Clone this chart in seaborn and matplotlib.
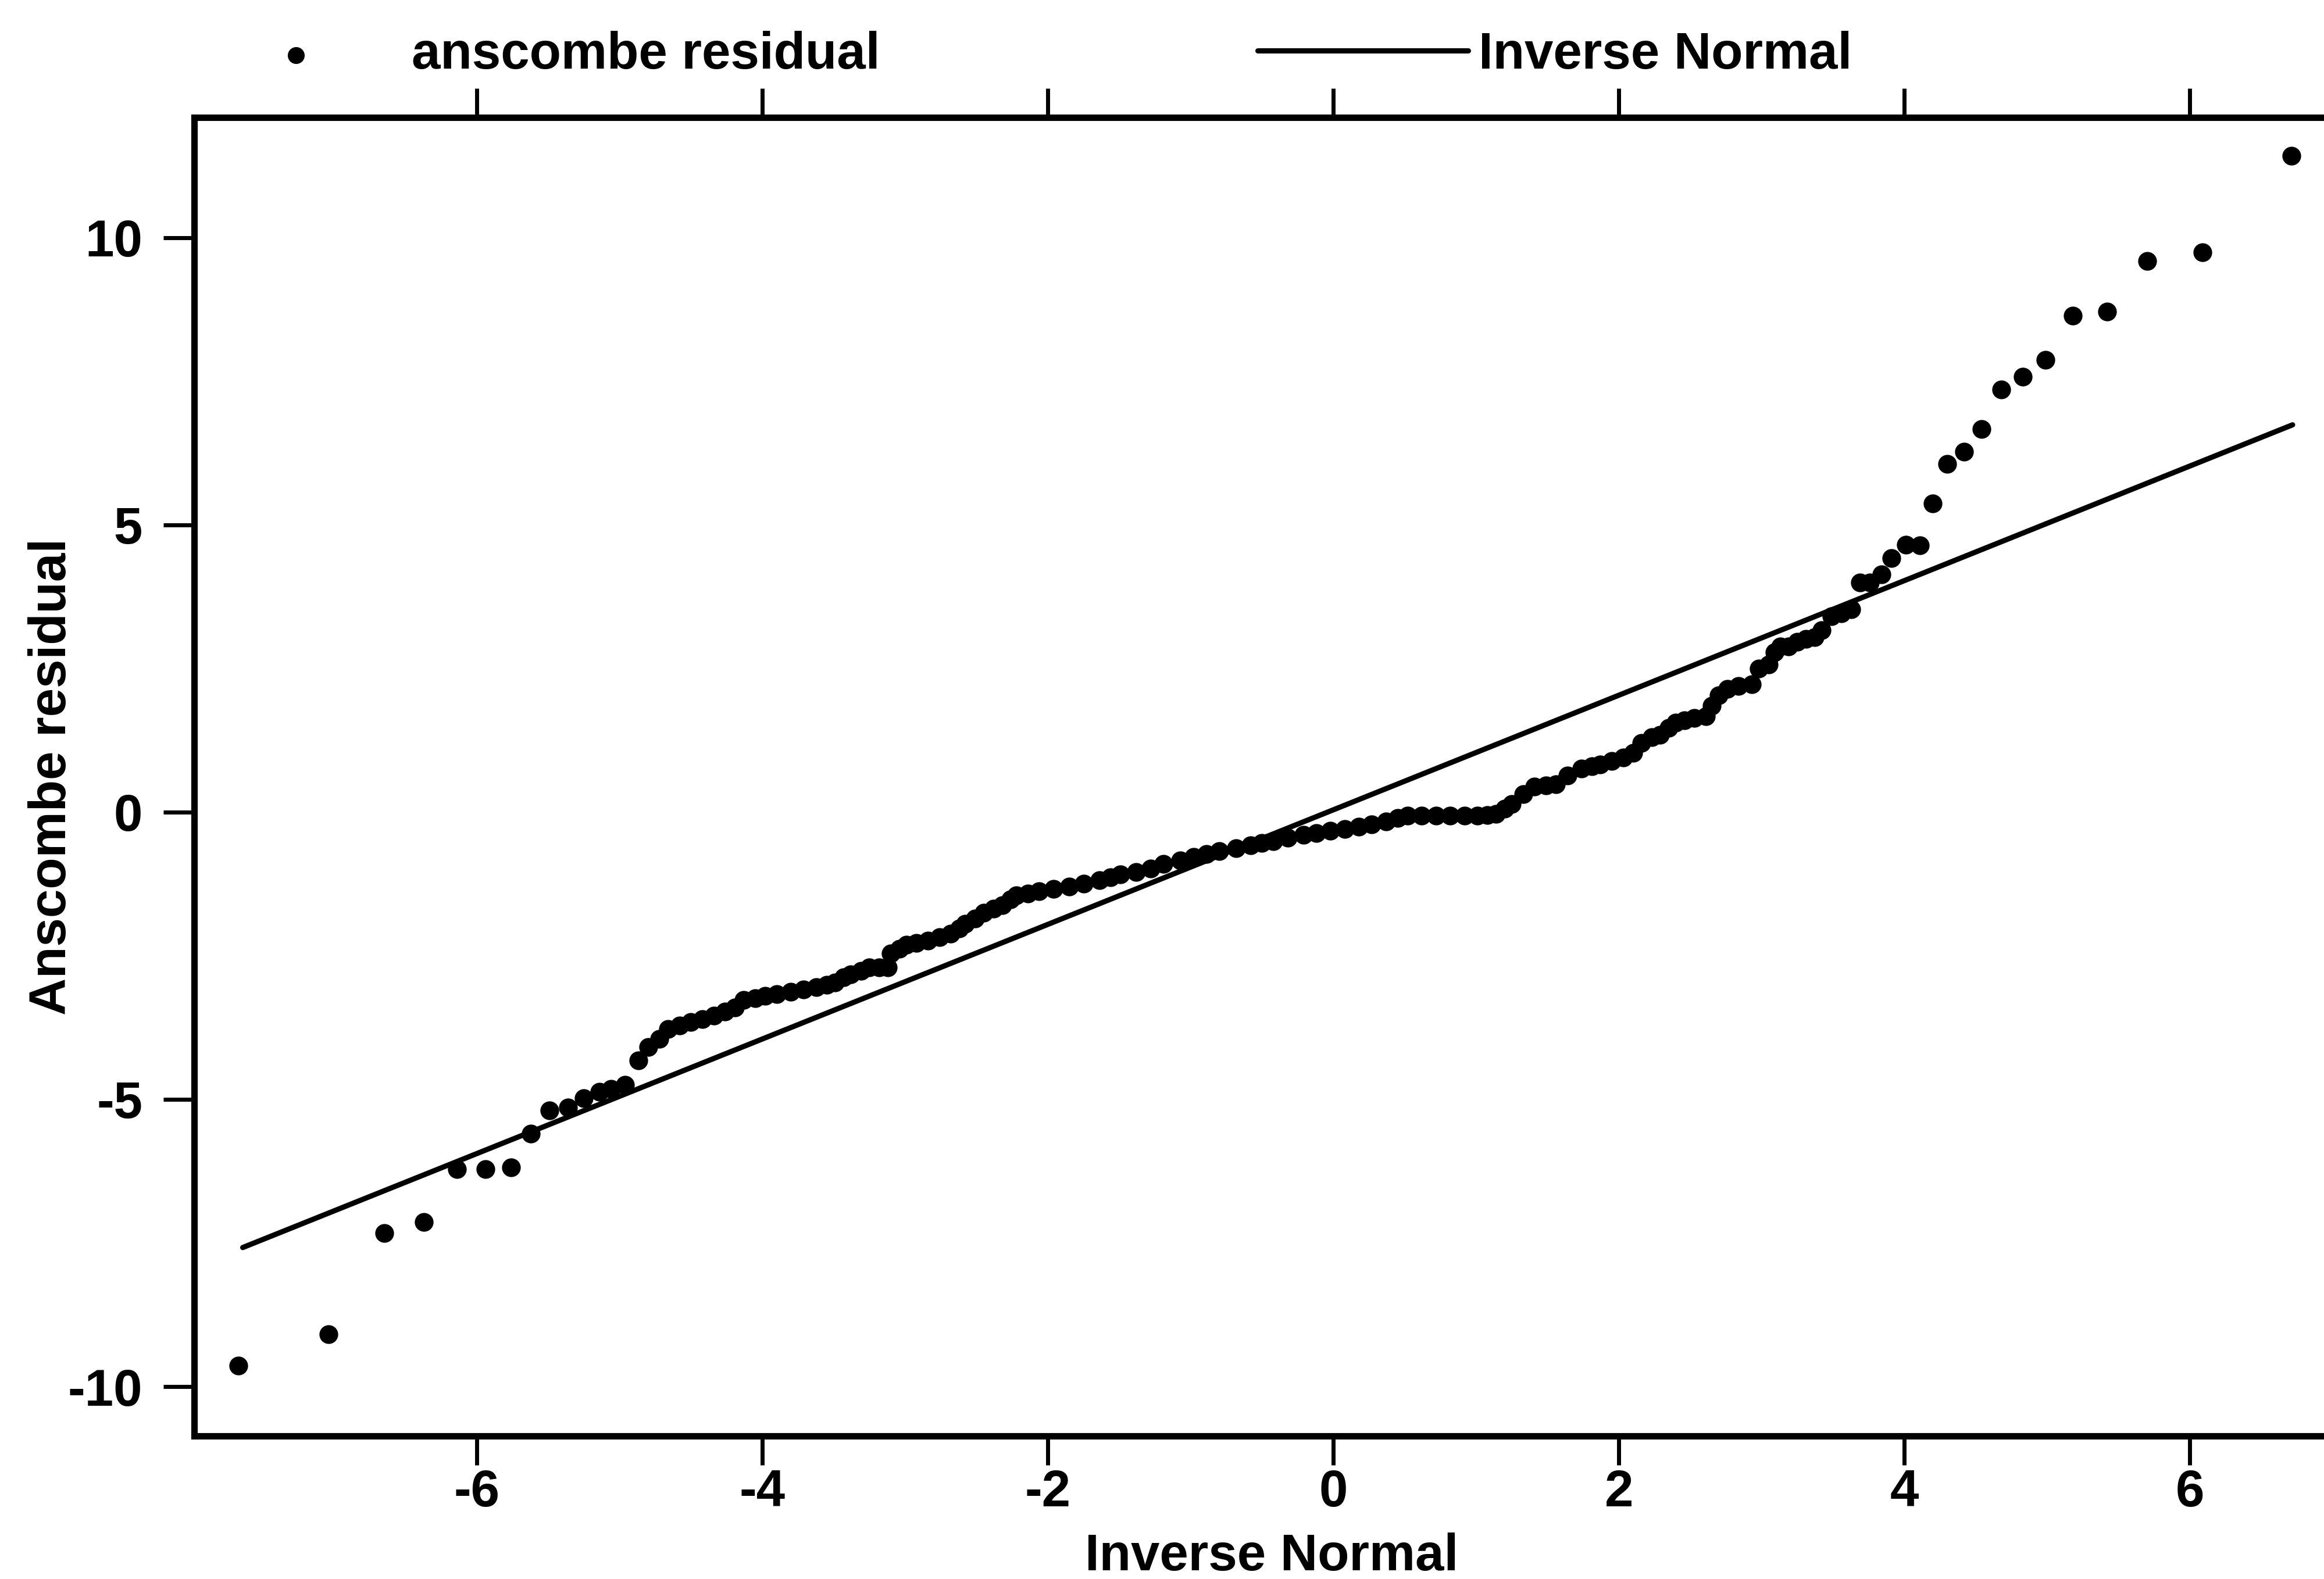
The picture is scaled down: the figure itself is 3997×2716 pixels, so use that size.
import matplotlib
matplotlib.use('Agg')
import matplotlib.pyplot as plt
import seaborn as sns
import numpy as np

# inverse normal quantiles (x) and anscombe residuals (y)
inv_normal = [
    -7.67, -7.04, -6.65, -6.37, -6.14, -5.94, -5.76, -5.62, -5.49, -5.36,
    -5.25, -5.14, -5.06, -4.96, -4.87, -4.80, -4.72, -4.66, -4.58, -4.50,
    -4.42, -4.34, -4.26, -4.19, -4.13, -4.05, -3.98, -3.90, -3.80, -3.71,
    -3.62, -3.55, -3.49, -3.43, -3.38, -3.31, -3.25, -3.18, -3.12, -3.10,
    -3.04, -2.99, -2.92, -2.84, -2.76, -2.68, -2.62, -2.58, -2.51, -2.45,
    -2.38, -2.32, -2.26, -2.22, -2.14, -2.06, -1.96, -1.85, -1.75, -1.64,
    -1.56, -1.49, -1.38, -1.28, -1.19, -1.07, -0.98, -0.89, -0.80, -0.68,
    -0.58, -0.50, -0.42, -0.32, -0.21, -0.12, -0.02, 0.08, 0.18, 0.27,
    0.37, 0.45, 0.52, 0.62, 0.72, 0.82, 0.92, 1.01, 1.08, 1.14,
    1.20, 1.25, 1.33, 1.41, 1.49, 1.56, 1.64, 1.74, 1.81, 1.87,
    1.95, 2.03, 2.10, 2.16, 2.23, 2.29, 2.35, 2.40, 2.46, 2.53,
    2.61, 2.65, 2.70, 2.76, 2.84, 2.93, 2.98, 3.05, 3.09, 3.13,
    3.19, 3.25, 3.31, 3.37, 3.42, 3.49, 3.56, 3.63, 3.69, 3.76,
    3.84, 3.91, 4.01, 4.11, 4.20, 4.30, 4.42, 4.54, 4.68, 4.83,
    4.99, 5.18, 5.42, 5.70, 6.09, 6.71,
]
anscombe_res = [
    -9.64, -9.09, -7.33, -7.14, -6.22, -6.22, -6.19, -5.60, -5.19, -5.14,
    -4.98, -4.87, -4.82, -4.75, -4.32, -4.09, -3.95, -3.78, -3.72, -3.66,
    -3.60, -3.54, -3.47, -3.40, -3.27, -3.24, -3.20, -3.17, -3.13, -3.09,
    -3.05, -3.01, -2.97, -2.88, -2.83, -2.76, -2.70, -2.70, -2.70, -2.46,
    -2.38, -2.31, -2.28, -2.24, -2.18, -2.12, -2.03, -1.95, -1.85, -1.75,
    -1.68, -1.62, -1.52, -1.45, -1.42, -1.38, -1.34, -1.30, -1.25, -1.19,
    -1.14, -1.09, -1.04, -0.98, -0.90, -0.84, -0.78, -0.73, -0.68, -0.63,
    -0.58, -0.54, -0.51, -0.45, -0.40, -0.37, -0.33, -0.30, -0.26, -0.21,
    -0.16, -0.10, -0.06, -0.06, -0.06, -0.06, -0.06, -0.06, -0.05, -0.03,
    0.06, 0.14, 0.31, 0.44, 0.46, 0.48, 0.64, 0.76, 0.80, 0.83,
    0.89, 0.95, 1.03, 1.20, 1.30, 1.34, 1.46, 1.56, 1.60, 1.64,
    1.67, 1.85, 2.03, 2.14, 2.19, 2.22, 2.50, 2.57, 2.78, 2.88,
    2.88, 2.96, 3.01, 3.04, 3.16, 3.41, 3.46, 3.53, 3.99, 3.99,
    4.14, 4.42, 4.65, 4.64, 5.37, 6.06, 6.27, 6.67, 7.35, 7.58,
    7.87, 8.64, 8.71, 9.59, 9.74, 11.42,
]

# reference line (inverse normal), end points
line_x = [-7.64, 6.72]
line_y = [-7.58, 6.74]

x_ticks = [-6, -4, -2, 0, 2, 4, 6]
y_ticks = [-10, -5, 0, 5, 10]

sns.set_theme(style='white')
plt.rcParams['font.family'] = ['Liberation Sans Narrow', 'Liberation Sans', 'DejaVu Sans']
plt.rcParams['font.weight'] = 'bold'
plt.rcParams['axes.unicode_minus'] = False
plt.rcParams['text.color'] = 'black'
plt.rcParams['axes.labelcolor'] = 'black'
plt.rcParams['xtick.color'] = 'black'
plt.rcParams['ytick.color'] = 'black'

W, H = 3997, 2716
fig = plt.figure(figsize=(W / 100, H / 100), dpi=100)
ax = fig.add_axes([334 / W, 1 - 2470 / H, 1 - 334 / W, (2470 - 202) / H])

fs = 64

sns.scatterplot(x=inv_normal, y=anscombe_res, ax=ax, color='black',
                s=540, linewidth=0, label='anscombe residual', legend=False)
sns.lineplot(x=line_x, y=line_y, ax=ax, color='black', linewidth=6.5,
             label='Inverse Normal', legend=False)

ax.set_xlim(-7.98, 6.94)
ax.set_ylim(-10.86, 12.09)
ax.set_xticks(x_ticks)
ax.set_yticks(y_ticks)
ax.set_xticklabels([str(v) for v in x_ticks])
ax.set_yticklabels([str(v) for v in y_ticks])

for side in ['left', 'top', 'bottom']:
    ax.spines[side].set_visible(True)
    ax.spines[side].set_color('black')
    ax.spines[side].set_linewidth(8)
ax.spines['right'].set_visible(False)

ax.tick_params(axis='x', which='major', direction='out', length=36, width=5,
               bottom=True, top=True, labelbottom=True, labeltop=False,
               labelsize=fs, pad=4)
ax.tick_params(axis='y', which='major', direction='out', length=38, width=5,
               left=True, right=False, labelsize=fs, pad=26)

ax.set_xlabel('Inverse Normal', fontsize=fs, fontweight='bold')
ax.set_ylabel('Anscombe residual', fontsize=fs, fontweight='bold')
ax.xaxis.set_label_coords(0.506, -0.0732)
ax.yaxis.set_label_coords(-0.0551, 0.5)

handles, labels = ax.get_legend_handles_labels()
ax.legend(handles, labels, loc='center left', ncol=2,
          bbox_to_anchor=(328 / W, 1 - 95 / H), bbox_transform=fig.transFigure,
          frameon=False, fontsize=fs, handlelength=4.08, handletextpad=0.2,
          columnspacing=7.3, borderpad=0, borderaxespad=0, markerscale=0.9)

fig.savefig('out.png', dpi=100, facecolor='white')
